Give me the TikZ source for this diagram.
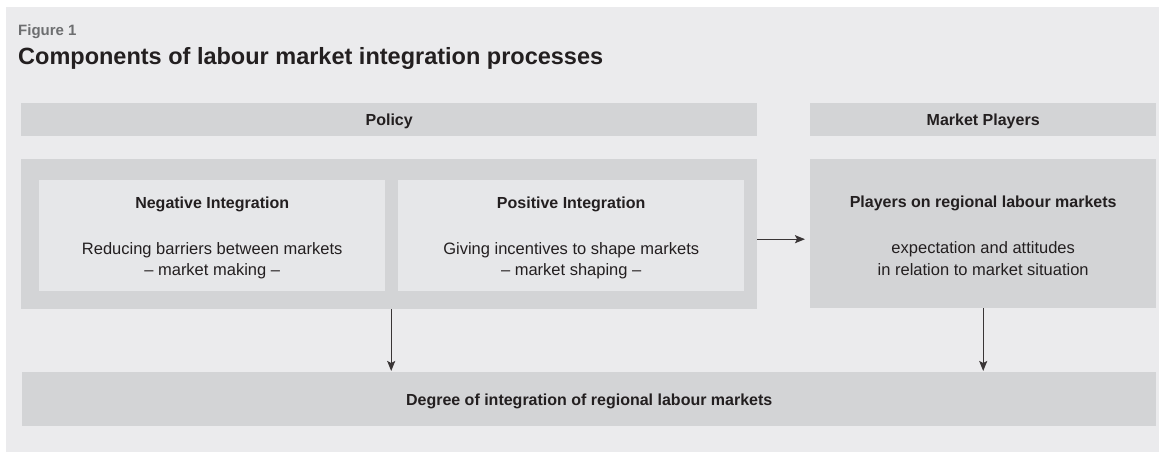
\documentclass[tikz,border=0pt]{standalone}
\usepackage{fontspec}
\setmainfont{Liberation Sans}
\usepackage{tikz}
\usetikzlibrary{arrows.meta,positioning,calc}

\definecolor{bgcol}{RGB}{235,235,237}
\definecolor{barcol}{RGB}{211,212,214}
\definecolor{innercol}{RGB}{230,231,233}
\definecolor{txtcol}{RGB}{35,31,32}
\definecolor{figcol}{RGB}{109,110,112}

\begin{document}
\begin{tikzpicture}[>={Stealth[length=10pt,width=8pt,inset=2pt]}, x=1pt, y=-1pt,
  bar/.style={fill=barcol, inner sep=0pt, anchor=north west},
  inbox/.style={fill=innercol, inner sep=0pt, anchor=north west},
  head/.style={font=\fontsize{16}{19}\selectfont\bfseries, text=txtcol, anchor=base, inner sep=0pt},
  body/.style={font=\fontsize{16.5}{20}\selectfont, text=txtcol, anchor=base, inner sep=0pt},
  arr/.style={->, line width=1.4pt, draw=txtcol!90}]
 \useasboundingbox (0,0) rectangle (1159,452);
 \fill[bgcol] (6,7) rectangle (1159,452);

 % title
 \node[anchor=base west, inner sep=0pt, text=figcol, font=\fontsize{15}{18}\selectfont\bfseries] (fig) at (18,35.5) {Figure 1};
 \node[anchor=base west, inner sep=0pt, text=txtcol, font=\fontsize{23.5}{28}\selectfont\bfseries] (title) at (18,64) {Components of labour market integration processes};

 % column headers
 \node[bar, minimum width=736pt, minimum height=33pt] (policy) at (21,103) {};
 \node[bar, minimum width=346pt, minimum height=33pt] (market) at (810,103) {};
 \node[head] (policyT) at ([yshift=-6pt]policy.center) {Policy};
 \node[head] (marketT) at ([yshift=-6pt]market.center) {Market Players};

 % policy block
 \node[bar, minimum width=736pt, minimum height=150pt] (policybox) at (21,159) {};
 \node[inbox, minimum width=346pt, minimum height=111pt] (negbox) at (39,180) {};
 \node[inbox, minimum width=346pt, minimum height=111pt] (posbox) at (398,180) {};
 \node[head] (negH) at ([yshift=-28pt]negbox.north) {Negative Integration};
 \node[body] (negA) at ([yshift=-74pt]negbox.north) {Reducing barriers between markets};
 \node[body] (negB) at ([yshift=-95pt]negbox.north) {-- market making --};
 \node[head] (posH) at ([yshift=-28pt]posbox.north) {Positive Integration};
 \node[body] (posA) at ([yshift=-74pt]posbox.north) {Giving incentives to shape markets};
 \node[body] (posB) at ([yshift=-95pt]posbox.north) {-- market shaping --};

 % players block
 \node[bar, minimum width=346pt, minimum height=149pt] (players) at (810,159) {};
 \node[head] (plH) at ([yshift=-48pt]players.north) {Players on regional labour markets};
 \node[body] (plA) at ([yshift=-94pt]players.north) {expectation and attitudes};
 \node[body] (plB) at ([yshift=-116pt]players.north) {in relation to market situation};

 % result
 \node[bar, minimum width=1134pt, minimum height=54pt] (degree) at (22,372) {};
 \node[head] (degT) at ([yshift=-6pt]degree.center) {Degree of integration of regional labour markets};

 \draw[arr, shorten >=5pt] ([yshift=-5pt]policybox.east) -- ([yshift=-5pt]policybox.east -| players.west);
 \draw[arr, shorten >=1pt] ([xshift=2pt]policybox.south) -- ([xshift=2pt]policybox.south |- degree.north);
 \draw[arr, shorten >=1pt] (players.south) -- (players.south |- degree.north);
\end{tikzpicture}
\end{document}
